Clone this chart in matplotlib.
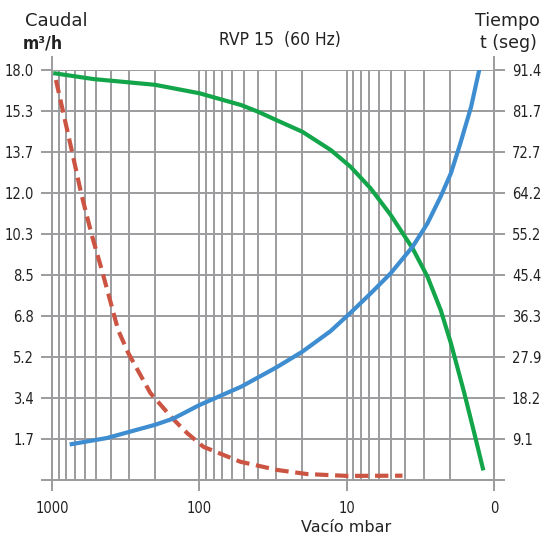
import numpy as np
import matplotlib
matplotlib.use("Agg")
import matplotlib.pyplot as plt

# pressure (mbar) vs flow (m3/h) - green
green_p = [950, 520, 200, 100, 52, 40, 30, 20, 12.85, 9.4, 6.87, 5.02, 3.57, 2.83, 2.30,
           1.96, 1.59, 1.36, 1.19]
green_q = [17.85, 17.6, 17.35, 16.98, 16.46, 16.17, 15.8, 15.29, 14.49, 13.75, 12.8, 11.63,
           10.17, 8.93, 7.46, 6.0, 3.81, 2.05, 0.51]

# pressure (mbar) vs time (s) - blue
blue_p = [735, 425, 200, 150, 100, 52, 30, 20, 12.85, 9.4, 6.87, 5.02, 3.57, 2.83, 2.30,
          1.96, 1.69, 1.43, 1.26]
blue_t = [8.0, 9.35, 12.3, 13.7, 16.7, 20.8, 25.1, 28.6, 33.2, 37.3, 41.6, 46.1, 52.0,
          57.2, 63.2, 68.4, 75.1, 83.2, 91.4]

# dashed red curve (left scale)
red_p = [940, 727, 635, 537, 459, 356, 304, 215, 153, 121, 94, 52.6, 29.6, 18.5, 9.9, 4.18]
red_q = [17.56, 14.34, 12.6, 10.75, 9.22, 6.59, 5.58, 3.82, 2.72, 2.06, 1.46, 0.80, 0.44,
         0.26, 0.18, 0.19]

left_labels = ["", "1.7", "3.4", "5.2", "6.8", "8.5", "10.3", "12.0", "13.7", "15.3", "18.0"]
right_labels = ["", "9.1", "18.2", "27.9", "36.3", "45.4", "55.2", "64.2", "72.7", "81.7", "91.4"]
x_ticks = [1000, 100, 10, 1]
x_labels = ["1000", "100", "10", "0"]

grid_c = "#9c9c9e"
txt_c = "#222222"

fig = plt.figure(figsize=(5.44, 5.41), dpi=100)
ax = fig.add_axes([52/544, 61/541, 442/544, 410/541])
ax2 = ax.twinx()

ax.set_xscale("log")
ax.set_xlim(1000, 1)
ax.set_ylim(0, 18)
ax2.set_ylim(0, 91.4)

ax.set_yticks(np.linspace(0, 18, 11))
ax.set_yticklabels(left_labels)
ax2.set_yticks(np.linspace(0, 91.4, 11))
ax2.set_yticklabels(right_labels)
ax.set_xticks(x_ticks)
ax.set_xticklabels(x_labels)

ax.grid(True, which="both", axis="x", color=grid_c, lw=1.4)
ax.grid(True, which="major", axis="y", color=grid_c, lw=1.4)
ax.set_axisbelow(True)

for a in (ax, ax2):
    for s in a.spines.values():
        s.set_color(grid_c)
        s.set_linewidth(1.4)
    a.spines["top"].set_visible(False)
ax.spines["left"].set_bounds(0, 18.55)
ax2.spines["right"].set_bounds(0, 94.2)

ax.tick_params(axis="y", length=8, width=1.4, color=grid_c, pad=5, labelcolor=txt_c)
ax2.tick_params(axis="y", length=8, width=1.4, color=grid_c, pad=5, labelcolor=txt_c)
ax.tick_params(axis="x", which="major", length=8, width=1.4, color=grid_c, pad=7, labelcolor=txt_c)
ax.tick_params(axis="x", which="minor", length=0)
for lab in ax.get_yticklabels() + ax2.get_yticklabels() + ax.get_xticklabels():
    lab.set_fontstretch("condensed")
    lab.set_fontsize(10.5)

ax.plot(green_p, green_q, color="#13a54a", lw=3.0, zorder=3)
ax.plot(red_p, red_q, color="#cc5442", lw=3.0, ls=(0, (3.2, 1.6)), zorder=3)
ax2.plot(blue_p, blue_t, color="#3d8dd0", lw=3.0, zorder=3)

fig.text(25/544, 1 - 21/541, "Caudal", fontsize=13, color=txt_c, ha="left", va="center")
fig.text(43/544, 1 - 43/541, "m³/h", fontsize=12.5, color=txt_c, ha="center", va="center",
         fontweight="bold", fontstretch="condensed")
fig.text(540/544, 1 - 21/541, "Tiempo", fontsize=12.5, color=txt_c, ha="right", va="center")
fig.text(537/544, 1 - 43/541, "t (seg)", fontsize=12.5, color=txt_c, ha="right", va="center")
fig.text(280/544, 1 - 40/541, "RVP 15  (60 Hz)", fontsize=12.5, color=txt_c, ha="center",
         va="center", fontstretch="condensed")
fig.text(346/544, 1 - 528/541, "Vacío mbar", fontsize=11.5, color=txt_c, ha="center", va="center")

fig.savefig("out.png", dpi=100)
